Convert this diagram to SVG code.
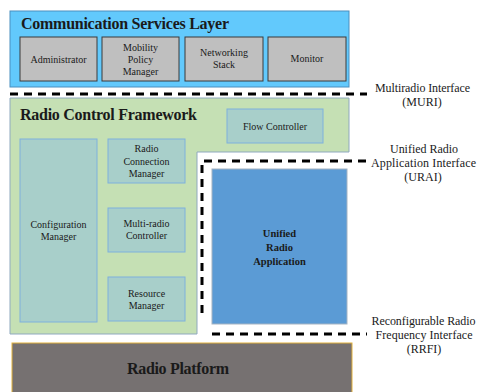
<svg xmlns="http://www.w3.org/2000/svg" width="478" height="392" viewBox="0 0 478 392">
  <style>
    text { font-family: 'Liberation Serif', 'Times New Roman', serif; fill: #1a1a1a; }
    .title { font-size: 16px; font-weight: bold; }
    .small { font-size: 10px; text-anchor: middle; }
    .side { font-size: 12px; text-anchor: middle; }
    .app { font-size: 10.5px; font-weight: bold; text-anchor: middle; }
    .grey { fill: #bfbfbf; stroke: #3a3a3a; stroke-width: 1; }
    .teal { fill: #a8cfca; stroke: #7fb0dc; stroke-width: 1; }
    .iface { fill: none; stroke: #000; stroke-width: 3; stroke-dasharray: 8 6; }
  </style>

  <rect width="478" height="392" fill="#fff"/>

  <!-- Communication Services Layer -->
  <g id="csl">
    <rect x="10" y="11" width="339" height="76" fill="#62c9fc" stroke="#4a8fc0" stroke-width="1"/>
    <text class="title" x="21" y="29" textLength="208">Communication Services Layer</text>
  </g>
  <g id="administrator">
    <rect class="grey" x="20" y="37" width="77" height="44"/>
    <text class="small" x="58.5" y="63">Administrator</text>
  </g>
  <g id="mobility">
    <rect class="grey" x="102" y="37" width="77" height="44"/>
    <text class="small" x="140.5" y="51">Mobility</text>
    <text class="small" x="140.5" y="63">Policy</text>
    <text class="small" x="140.5" y="75">Manager</text>
  </g>
  <g id="networking">
    <rect class="grey" x="185" y="37" width="78" height="44"/>
    <text class="small" x="224" y="56">Networking</text>
    <text class="small" x="224" y="68">Stack</text>
  </g>
  <g id="monitor">
    <rect class="grey" x="268" y="37" width="78" height="44"/>
    <text class="small" x="307" y="62">Monitor</text>
  </g>

  <!-- Radio Control Framework (L-shaped, leaves room for the application) -->
  <g id="rcf">
    <path d="M10 98 H349 V152 H197 V334 H10 Z" fill="#c5e0b4" stroke="#8fa9bf" stroke-width="1"/>
    <text class="title" x="20" y="120" textLength="177">Radio Control Framework</text>
  </g>
  <g id="flow-controller">
    <rect class="teal" x="227" y="109" width="96" height="34"/>
    <text class="small" x="275" y="130">Flow Controller</text>
  </g>
  <g id="configuration-manager">
    <rect class="teal" x="20" y="139" width="77" height="183"/>
    <text class="small" x="58.5" y="228">Configuration</text>
    <text class="small" x="58.5" y="240">Manager</text>
  </g>
  <g id="radio-connection-manager">
    <rect class="teal" x="108" y="139" width="77" height="44"/>
    <text class="small" x="146.5" y="152">Radio</text>
    <text class="small" x="146.5" y="165">Connection</text>
    <text class="small" x="146.5" y="177">Manager</text>
  </g>
  <g id="multi-radio-controller">
    <rect class="teal" x="108" y="208" width="77" height="44"/>
    <text class="small" x="146.5" y="227">Multi-radio</text>
    <text class="small" x="146.5" y="239">Controller</text>
  </g>
  <g id="resource-manager">
    <rect class="teal" x="108" y="277" width="77" height="44"/>
    <text class="small" x="146.5" y="297">Resource</text>
    <text class="small" x="146.5" y="309">Manager</text>
  </g>

  <!-- Unified Radio Application -->
  <g id="ura">
    <rect x="212" y="169" width="135" height="155" fill="#5b9bd5" stroke="#a5b3c2" stroke-width="1"/>
    <text class="app" x="279.5" y="237">Unified</text>
    <text class="app" x="279.5" y="251">Radio</text>
    <text class="app" x="279.5" y="265">Application</text>
  </g>

  <!-- Radio Platform -->
  <g id="radio-platform">
    <rect x="12" y="343" width="340" height="60" fill="#767171" stroke="#e2b13c" stroke-width="1"/>
    <text class="title" x="178" y="374" text-anchor="middle" textLength="102">Radio Platform</text>
  </g>

  <!-- Interface boundaries -->
  <g id="connectors">
    <line class="iface" x1="10" y1="94" x2="367" y2="94"/>
    <path class="iface" d="M202 313 V161 H367"/>
    <line class="iface" x1="212" y1="334" x2="367" y2="334"/>
  </g>

  <!-- Interface labels -->
  <g id="labels">
    <text class="side" x="422.5" y="92" textLength="95">Multiradio Interface</text>
    <text class="side" x="422" y="106">(MURI)</text>
    <text class="side" x="424" y="153" textLength="68">Unified Radio</text>
    <text class="side" x="423.5" y="167" textLength="105">Application Interface</text>
    <text class="side" x="423" y="181">(URAI)</text>
    <text class="side" x="423.5" y="325" textLength="104">Reconfigurable Radio</text>
    <text class="side" x="424" y="339" textLength="97">Frequency Interface</text>
    <text class="side" x="424" y="353">(RRFI)</text>
  </g>
</svg>
